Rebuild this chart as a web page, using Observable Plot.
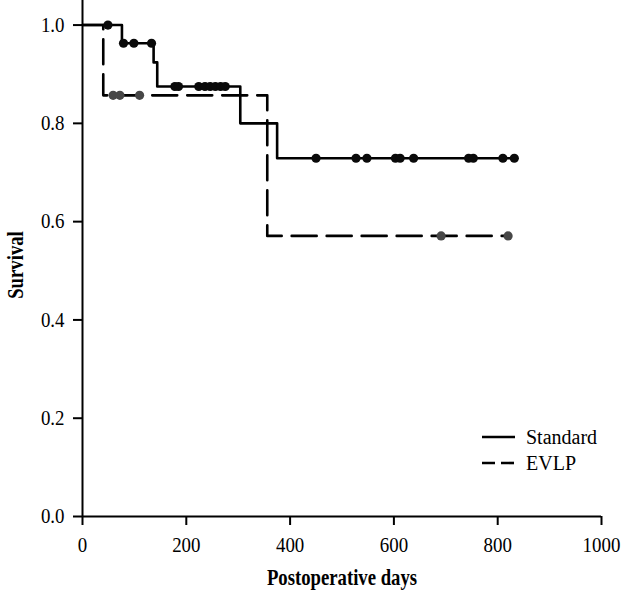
<!DOCTYPE html>
<html>
<head>
<meta charset="utf-8">
<script src="https://cdn.jsdelivr.net/npm/d3@7"></script>
<script src="https://cdn.jsdelivr.net/npm/@observablehq/plot@0.6"></script>
<style>
  body { margin: 0; background: #fff; }
  #wrap { position: relative; width: 622px; height: 594px; font-family: "Liberation Serif", "DejaVu Serif", serif; }
  #legend { position: absolute; left: 480px; top: 424px; font-size: 20px; color: #000; }
  #legend .row { display: flex; align-items: center; height: 26px; }
  #legend svg { width: 38px; height: 10px; margin-right: 8px; }
</style>
</head>
<body>
<div id="wrap"></div>
<script>
// Kaplan–Meier step data (day of event, survival after event)
const seriesNames = ["Standard", "EVLP"];

const standardDays = [0, 76, 137, 144, 304, 375, 832];
const standardSurv = [1.0, 0.963, 0.924, 0.875, 0.80, 0.729, 0.729];
const standardCensored = [49, 79, 99, 133, 178, 185, 224, 236, 246, 256, 266, 275,
                          450, 527, 548, 603, 612, 638, 744, 753, 810, 832];

const evlpDays = [0, 40, 356, 820];
const evlpSurv = [1.0, 0.857, 0.571, 0.571];
const evlpCensored = [59, 72, 110, 691, 820];

const xTicks = [0, 200, 400, 600, 800, 1000];
const yTicks = [0.0, 0.2, 0.4, 0.6, 0.8, 1.0];
const xTitle = "Postoperative days";
const yTitle = "Survival";

function steps(days, surv, name) {
  return days.map((d, i) => ({day: d, surv: surv[i], group: name}));
}
function survAt(days, surv, t) {
  let s = surv[0];
  for (let i = 0; i < days.length; i++) if (days[i] <= t) s = surv[i];
  return s;
}
const stdLine = steps(standardDays, standardSurv, seriesNames[0]);
const evlpLine = steps(evlpDays, evlpSurv, seriesNames[1]);
const stdCens = standardCensored.map(t => ({day: t, surv: survAt(standardDays, standardSurv, t)}));
const evlpCens = evlpCensored.map(t => ({day: t, surv: survAt(evlpDays, evlpSurv, t)}));

const chart = Plot.plot({
  width: 622,
  height: 594,
  marginLeft: 82,
  marginRight: 21,
  marginTop: 0,
  marginBottom: 78,
  style: {fontFamily: "'Liberation Serif', serif", fontSize: "21px", color: "#000", background: "#fff"},
  x: {domain: [0, 1000]},
  y: {domain: [0, 1.05]},
  marks: [
    Plot.axisX({ticks: xTicks, tickSize: 9, tickPadding: 12, strokeWidth: 2,
      tickFormat: d => String(d), label: null, fontSize: 21}),
    Plot.axisY({ticks: yTicks, tickSize: 9, tickPadding: 9, strokeWidth: 2,
      tickFormat: d => d.toFixed(1), label: null, fontSize: 21}),
    Plot.ruleX([0], {y1: 0, y2: 1.05, strokeWidth: 2}),
    Plot.ruleY([0], {x1: 0, x2: 1000, strokeWidth: 2}),
    Plot.line(evlpLine, {x: "day", y: "surv", curve: "step-after", stroke: "#000",
      strokeWidth: 2.6, strokeDasharray: "25,10"}),
    Plot.line(stdLine, {x: "day", y: "surv", curve: "step-after", stroke: "#000", strokeWidth: 2.6}),
    Plot.dot(evlpCens, {x: "day", y: "surv", r: 4.6, fill: "#474747", stroke: "none"}),
    Plot.dot(stdCens, {x: "day", y: "surv", r: 4.6, fill: "#0a0a0a", stroke: "none"})
  ]
});

// slightly condensed tick labels (as in the reference typeface)
chart.querySelectorAll("g[aria-label='x-axis tick label'] text, g[aria-label='y-axis tick label'] text").forEach(t => {
  t.setAttribute("transform", (t.getAttribute("transform") || "") + " scale(0.9,1)");
});

// axis titles (bold, condensed)
const NS = "http://www.w3.org/2000/svg";
function addTitle(str, transform) {
  const t = document.createElementNS(NS, "text");
  t.textContent = str;
  t.setAttribute("transform", transform);
  t.setAttribute("text-anchor", "middle");
  t.setAttribute("font-weight", "bold");
  t.setAttribute("font-size", "24px");
  t.setAttribute("fill", "#000");
  chart.appendChild(t);
}
addTitle(xTitle, "translate(342,585) scale(0.78,1)");
addTitle(yTitle, "translate(23,265) rotate(-90) scale(0.78,1)");

const wrap = document.getElementById("wrap");
wrap.appendChild(chart);

const legend = document.createElement("div");
legend.id = "legend";
legend.innerHTML = seriesNames.map((n, i) => `
  <div class="row">
    <svg viewBox="0 0 38 10"><line x1="2" y1="5" x2="35" y2="5" stroke="#000" stroke-width="2.6"
      ${i === 1 ? 'stroke-dasharray="13,6"' : ''}/></svg><span>${n}</span>
  </div>`).join("");
wrap.appendChild(legend);
</script>
</body>
</html>
